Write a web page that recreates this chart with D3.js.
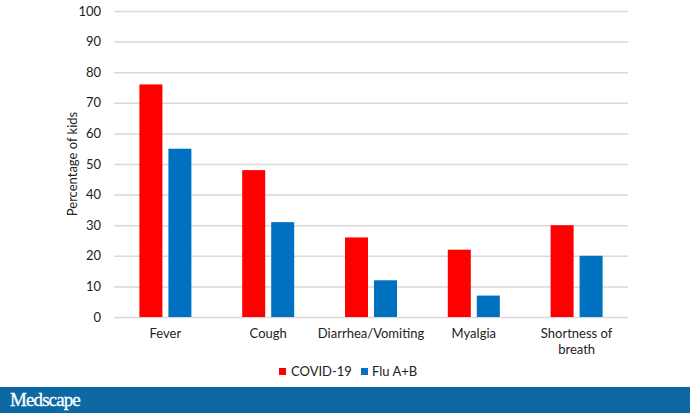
<!DOCTYPE html>
<html><head><meta charset="utf-8">
<script src="https://cdn.jsdelivr.net/npm/d3@7"></script>
<style>body{margin:0;background:#fff;} text{font-family:Lato, "Open Sans", sans-serif;}</style>
</head><body><svg id="c" width="690" height="413"></svg>
<script>
const categories = [["Fever"],["Cough"],["Diarrhea/Vomiting"],["Myalgia"],["Shortness of","breath"]];
const series = ["COVID-19","Flu A+B"];
const covid = [76,48,26,22,30];
const flu = [55,31,12,7,20];
const yTicks = [0,10,20,30,40,50,60,70,80,90,100];
const colors = ["#FF0000","#0070C0"];

(function(){
const svg = d3.select("#c");
const pl=114, pr=628, pt=11, pb=317;
const x = d3.scaleBand().domain(d3.range(categories.length)).range([pl,pr]);
const inner = 52;
const x1 = d3.scaleBand().domain(series).range([0,inner]).paddingInner(0.2069);
const y = d3.scaleLinear().domain([0,100]).range([pb,pt]);

svg.append("g").selectAll("line").data(yTicks).join("line")
  .attr("x1",pl).attr("x2",pr).attr("y1",d=>y(d)+0.5).attr("y2",d=>y(d)+0.5)
  .attr("stroke","#D9D9D9").attr("stroke-width",1.5);

svg.append("g").selectAll("text").data(yTicks).join("text")
  .attr("x",101).attr("y",d=>y(d)+4.5).attr("text-anchor","end")
  .attr("font-size",13).attr("fill","#222").text(d=>d);

const vals=[covid,flu];
series.forEach((s,si)=>{
  svg.append("g").selectAll("rect").data(vals[si]).join("rect")
    .attr("x",(d,i)=>x(i)+x.bandwidth()/2-inner/2+x1(s))
    .attr("width",x1.bandwidth())
    .attr("y",d=>y(d)).attr("height",d=>y(0)-y(d))
    .attr("fill",colors[si]);
});

const cl = svg.append("g").selectAll("text").data(categories).join("text")
  .attr("text-anchor","middle").attr("font-size",13).attr("fill","#222");
cl.each(function(d,i){
  d3.select(this).selectAll("tspan").data(d).join("tspan")
    .attr("x",x(i)+x.bandwidth()/2).attr("y",(t,j)=>337.5+j*16).text(t=>t);
});

svg.append("text").attr("transform","translate(77,164) rotate(-90)")
  .attr("text-anchor","middle").attr("font-size",13).attr("fill","#222").text("Percentage of kids");

const lg=[{x:279,tx:291},{x:361,tx:372}];
series.forEach((s,i)=>{
  svg.append("rect").attr("x",lg[i].x).attr("y",368).attr("width",7).attr("height",7).attr("fill",colors[i]);
  svg.append("text").attr("x",lg[i].tx).attr("y",376).attr("font-size",13).attr("fill","#222").text(s);
});

svg.append("rect").attr("x",0).attr("y",387).attr("width",690).attr("height",26).attr("fill","#0D69A3");
svg.append("text").attr("x",10).attr("y",406).attr("font-size",19).attr("fill","#fff")
  .attr("stroke","#fff").attr("stroke-width",0.3)
  .style("font-family","'Liberation Serif', 'DejaVu Serif', serif").attr("letter-spacing",-0.9).text("Medscape");
})();
</script></body></html>
